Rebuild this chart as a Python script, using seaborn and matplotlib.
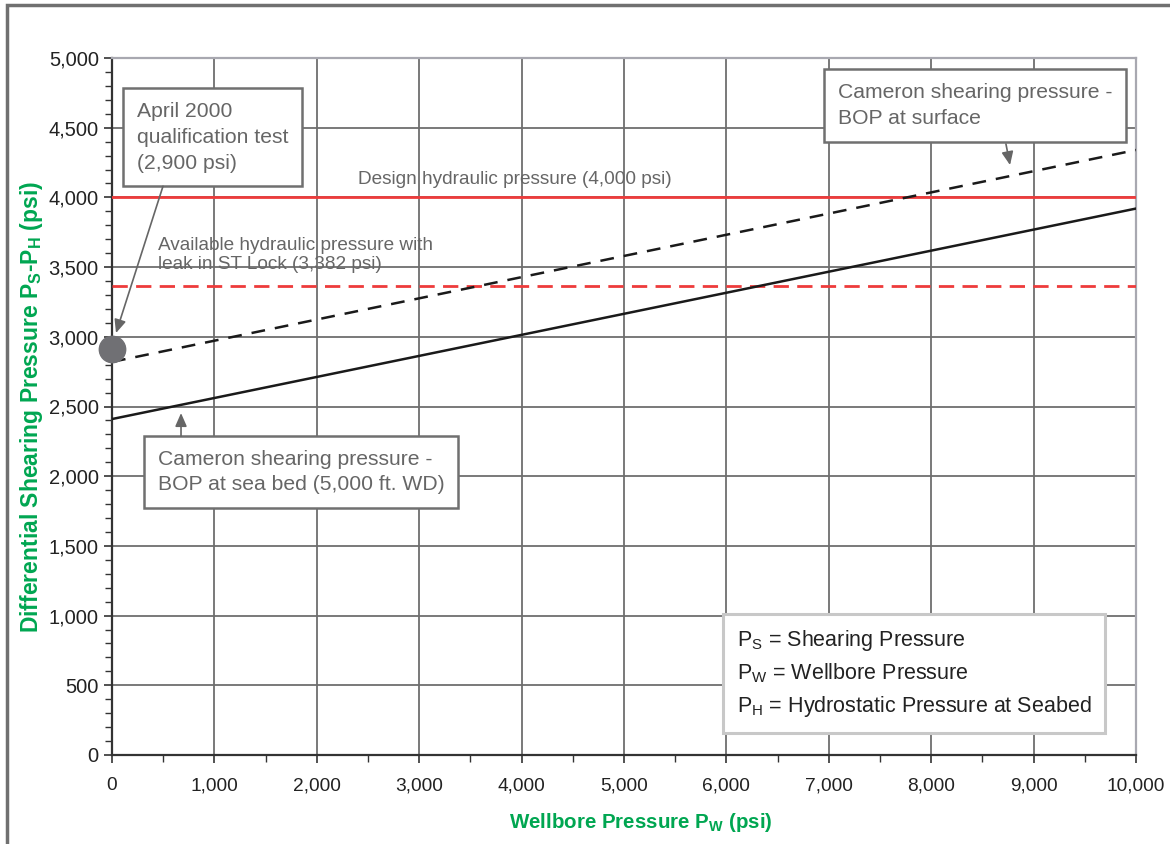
import numpy as np
import pandas as pd
import matplotlib
matplotlib.use("Agg")
import matplotlib.pyplot as plt
from matplotlib.ticker import MultipleLocator, FuncFormatter
from matplotlib.patches import Rectangle
import seaborn as sns

# data
wellbore = [0, 10000]
seabed = [2410, 3920]      # Cameron - BOP at sea bed (solid)
surface = [2820, 4340]     # Cameron - BOP at surface (dashed)
design_p = 4000
leak_p = 3365
test_x, test_y = 0, 2910

df = pd.DataFrame({
    "Pw": wellbore * 2,
    "dP": seabed + surface,
    "case": ["seabed"] * 2 + ["surface"] * 2,
})

sns.set_style("white")
plt.rcParams["font.family"] = ["Liberation Sans", "DejaVu Sans"]
plt.rcParams["mathtext.fontset"] = "custom"
plt.rcParams["mathtext.rm"] = "Liberation Sans"
plt.rcParams["mathtext.bf"] = "Liberation Sans:bold"

fig = plt.figure(figsize=(11.7, 8.44), dpi=100)
ax = fig.add_axes([112 / 1170, 1 - 755 / 844, 1024 / 1170, 697 / 844])

# outer frame
fig.patches.append(Rectangle((7 / 1170, -0.05), 1.2, 1.05 - 5 / 844, transform=fig.transFigure,
                             fill=False, edgecolor="#707070", linewidth=2.5))

sns.lineplot(data=df, x="Pw", y="dP", hue="case", style="case",
             palette={"seabed": "#1a1a1a", "surface": "#1a1a1a"},
             dashes={"seabed": "", "surface": (5.5, 4)}, linewidth=1.8,
             legend=False, ax=ax, zorder=4)

ax.axhline(design_p, color="#ee3b3b", linewidth=2, zorder=3)
ax.axhline(leak_p, color="#ee3b3b", linewidth=2, linestyle=(0, (5.5, 3)), zorder=3)
ax.plot([test_x], [test_y], "o", color="#707074", markersize=19, clip_on=False, zorder=6)

ax.set_xlim(0, 10000)
ax.set_ylim(0, 5000)
ax.xaxis.set_major_locator(MultipleLocator(1000))
ax.xaxis.set_minor_locator(MultipleLocator(500))
ax.yaxis.set_major_locator(MultipleLocator(500))
ax.yaxis.set_minor_locator(MultipleLocator(100))
fmt = FuncFormatter(lambda v, p: f"{int(v):,}")
ax.xaxis.set_major_formatter(fmt)
ax.yaxis.set_major_formatter(fmt)
ax.tick_params(which="both", direction="out", color="#333333",
               labelcolor="#222222", bottom=True, left=True)
ax.tick_params(axis="y", labelsize=14.5)
ax.tick_params(axis="x", labelsize=13.8, pad=10)
ax.tick_params(which="major", length=6, width=1.2)
ax.tick_params(which="minor", length=5, width=1)
ax.grid(True, which="major", color="#6e6e6e", linewidth=1.3)

for s in ["left", "bottom"]:
    ax.spines[s].set_color("#333333")
    ax.spines[s].set_linewidth(1.6)
for s in ["top", "right"]:
    ax.spines[s].set_color("#a8a8b0")
    ax.spines[s].set_linewidth(1.6)

green = "#00a651"
ax.set_xlabel(r"Wellbore Pressure P$_\mathbf{W}$ (psi)", color=green,
              fontsize=14.8, fontweight="bold")
ax.set_ylabel(r"Differential Shearing Pressure P$_\mathbf{S}$-P$_\mathbf{H}$ (psi)", color=green,
              fontsize=16.5, fontweight="bold")
ax.xaxis.set_label_coords(0.516, -0.080)
ax.yaxis.set_label_coords(-0.0655, 0.5)

txt = "#666666"
box = dict(boxstyle="square,pad=0.65", facecolor="white", edgecolor="#707070", linewidth=1.8)
arrow = dict(arrowstyle="-|>,head_length=0.8,head_width=0.35", color="#666666",
             linewidth=1.2, shrinkA=0, shrinkB=0)

ax.text(240, 4684, "April 2000\nqualification test\n(2,900 psi)", fontsize=15.2, color=txt,
        ha="left", va="top", linespacing=1.45, bbox=box, zorder=7)
ax.text(450, 2190, "Cameron shearing pressure -\nBOP at sea bed (5,000 ft. WD)", fontsize=15.2,
        color=txt, ha="left", va="top", linespacing=1.45, bbox=box, zorder=7)
ax.text(7090, 4820, "Cameron shearing pressure -\nBOP at surface", fontsize=15.2,
        color=txt, ha="left", va="top", linespacing=1.45, bbox=box, zorder=7)

ax.annotate("", xy=(39, 3027), xytext=(498, 4080), arrowprops=arrow, zorder=8)
ax.annotate("", xy=(674, 2453), xytext=(674, 2288), arrowprops=arrow, zorder=8)
ax.annotate("", xy=(8770, 4232), xytext=(8730, 4383), arrowprops=arrow, zorder=8)

ax.text(2402, 4125, "Design hydraulic pressure (4,000 psi)", fontsize=13.7, color=txt,
        ha="left", va="center", zorder=5)
ax.text(449, 3587, "Available hydraulic pressure with\nleak in ST Lock (3,382 psi)",
        fontsize=13.7, color=txt, ha="left", va="center", linespacing=1.2, zorder=5)

legend_txt = ("P$_\\mathrm{S}$ = Shearing Pressure\n"
              "P$_\\mathrm{W}$ = Wellbore Pressure\n"
              "P$_\\mathrm{H}$ = Hydrostatic Pressure at Seabed")
ax.text(6100, 585, legend_txt, fontsize=15.5, color="#222222", ha="left", va="center",
        linespacing=1.5, zorder=7,
        bbox=dict(boxstyle="square,pad=0.65", facecolor="white", edgecolor="#c8c8c8", linewidth=2.2))

fig.savefig("out.png", dpi=100)
